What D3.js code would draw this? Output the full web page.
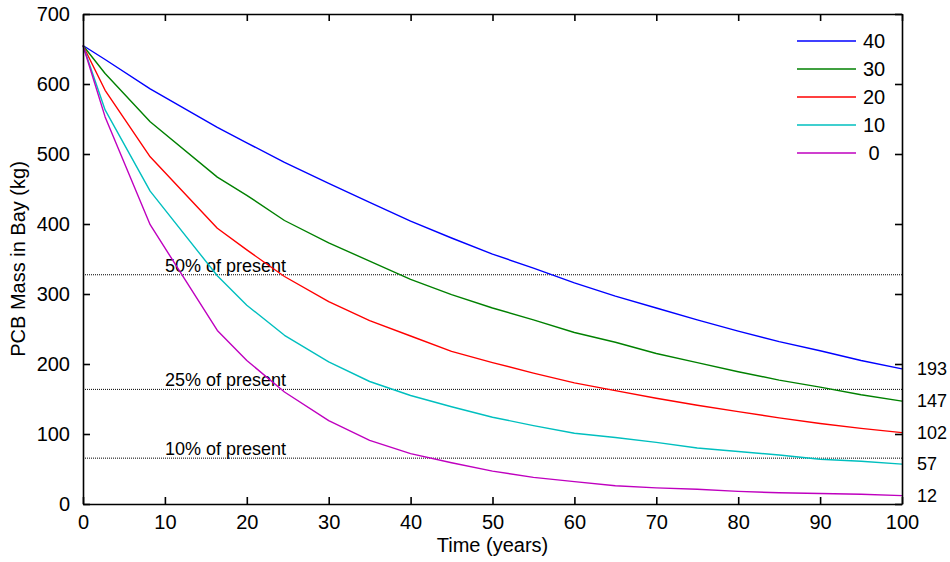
<!DOCTYPE html>
<html>
<head>
<meta charset="utf-8">
<script src="https://cdn.jsdelivr.net/npm/d3@7"></script>
<style>
  body { margin: 0; background: #fff; }
  svg { display: block; }
  text { font-family: "Liberation Sans", Arial, sans-serif; fill: #000; }
</style>
</head>
<body>
<svg id="chart" width="950" height="562"></svg>
<script>
// ---- data ----
const years = [0, 2.7, 8.2, 16.4, 20, 24.6, 30, 35, 40, 45, 50, 55, 60, 65, 70, 75, 80, 85, 90, 95, 100];
const s40 = [655, 635, 593, 538, 516, 488, 458, 431, 404, 380, 357, 337, 316, 297, 280, 263, 247, 232, 219, 205, 193];
const s30 = [655, 615, 546, 467, 441, 405, 373, 347, 321, 299, 280, 263, 245, 231, 215, 202, 189, 177, 167, 156, 147];
const s20 = [655, 591, 496, 394, 363, 325, 289, 262, 240, 218, 202, 187, 173, 162, 151, 141, 132, 123, 115, 108, 102];
const s10 = [655, 563, 447, 326, 284, 241, 203, 175, 155, 139, 124, 112, 101, 95, 88, 80, 75, 70, 64, 61, 57];
const s0  = [655, 553, 399, 248, 205, 160, 119, 91, 72, 59, 47, 38, 32, 26, 23, 21, 18, 16, 15, 14, 12];
const seriesNames = ["40", "30", "20", "10", "0"];
const seriesValues = [s40, s30, s20, s10, s0];
const seriesColors = ["#0000ff", "#008000", "#ff0000", "#00bfbf", "#bf00bf"];
const endLabels = [193, 147, 102, 57, 12];
const present = 655;
const refFractions = [0.5, 0.25, 0.1];
const refLabels = ["50% of present", "25% of present", "10% of present"];
const xTicks = [0, 10, 20, 30, 40, 50, 60, 70, 80, 90, 100];
const yTicks = [0, 100, 200, 300, 400, 500, 600, 700];

// ---- layout ----
const svg = d3.select("#chart");
const L = 83, R = 902, T = 14, B = 504;
const x = d3.scaleLinear().domain([0, 100]).range([L, R]);
const y = d3.scaleLinear().domain([0, 700]).range([B, T]);
const tickLen = 7;

// reference lines
const refG = svg.append("g");
refFractions.forEach((f, i) => {
  const v = present * f;
  refG.append("line")
    .attr("x1", x(0)).attr("x2", x(100))
    .attr("y1", y(v)).attr("y2", y(v))
    .attr("stroke", "#000").attr("stroke-width", 1)
    .attr("stroke-dasharray", "1,1");
  refG.append("text")
    .attr("x", x(10)).attr("y", y(v) - 3)
    .attr("font-size", 18)
    .text(refLabels[i]);
});

// series lines
const line = d3.line().x((d, i) => x(years[i])).y(d => y(d));
seriesValues.forEach((vals, i) => {
  svg.append("path")
    .datum(vals)
    .attr("d", line)
    .attr("fill", "none")
    .attr("stroke", seriesColors[i])
    .attr("stroke-width", 1.4)
    .attr("stroke-linejoin", "round");
});

// axes (box with inward ticks)
const axBottom = d3.axisBottom(x).tickValues(xTicks).tickSizeInner(-tickLen).tickSizeOuter(0).tickPadding(tickLen + 4).tickFormat(d3.format("d"));
const axTop = d3.axisTop(x).tickValues(xTicks).tickSizeInner(-tickLen).tickSizeOuter(0).tickFormat("");
const axLeft = d3.axisLeft(y).tickValues(yTicks).tickSizeInner(-tickLen).tickSizeOuter(0).tickPadding(tickLen + 6).tickFormat(d3.format("d"));
const axRight = d3.axisRight(y).tickValues(yTicks).tickSizeInner(-tickLen).tickSizeOuter(0).tickFormat("");

function styleAxis(g) {
  g.select(".domain").attr("stroke", "#000").attr("stroke-width", 1.6);
  g.selectAll(".tick line").attr("stroke", "#000").attr("stroke-width", 1.6);
  g.selectAll(".tick text").attr("font-size", 20).attr("fill", "#000")
    .attr("font-family", "Liberation Sans, Arial, sans-serif");
}
svg.append("g").attr("transform", `translate(0,${B})`).call(axBottom).call(styleAxis);
svg.append("g").attr("transform", `translate(0,${T})`).call(axTop).call(styleAxis);
svg.append("g").attr("transform", `translate(${L},0)`).call(axLeft).call(styleAxis);
svg.append("g").attr("transform", `translate(${R},0)`).call(axRight).call(styleAxis);

// end labels at right
endLabels.forEach(v => {
  svg.append("text")
    .attr("x", 917).attr("y", y(v))
    .attr("dy", "0.35em")
    .attr("font-size", 18)
    .text(v);
});

// axis titles
svg.append("text")
  .attr("x", (L + R) / 2).attr("y", 552)
  .attr("text-anchor", "middle")
  .attr("font-size", 20)
  .text("Time (years)");
svg.append("text")
  .attr("transform", `translate(25,${(T + B) / 2}) rotate(-90)`)
  .attr("text-anchor", "middle")
  .attr("font-size", 20)
  .text("PCB Mass in Bay (kg)");

// legend
const legY0 = 41, legDy = 28;
seriesNames.forEach((name, i) => {
  const yy = legY0 + i * legDy;
  svg.append("line")
    .attr("x1", 797).attr("x2", 856)
    .attr("y1", yy).attr("y2", yy)
    .attr("stroke", seriesColors[i]).attr("stroke-width", 1.4);
  svg.append("text")
    .attr("x", 874).attr("y", yy)
    .attr("dy", "0.35em")
    .attr("text-anchor", "middle")
    .attr("font-size", 20)
    .text(name);
});
</script>
</body>
</html>
